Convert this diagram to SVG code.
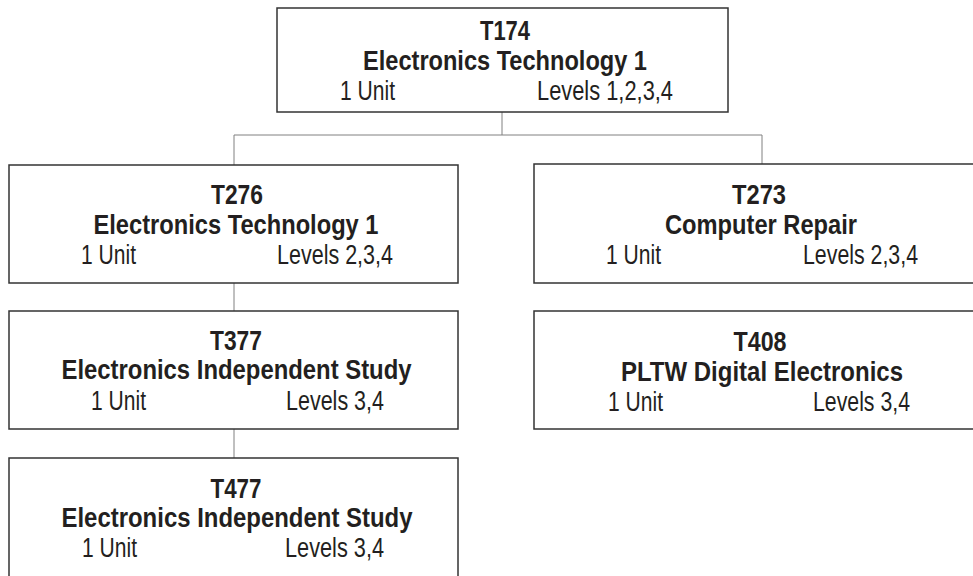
<svg xmlns="http://www.w3.org/2000/svg" width="973" height="576" viewBox="0 0 973 576">
<style>
.box{fill:#fff;stroke:#333;stroke-width:1.5}
.con{fill:none;stroke:#808080;stroke-width:1}
text{font-family:"Liberation Sans",Arial,Helvetica,sans-serif;font-size:27px;fill:#231f20}
.b{font-weight:bold;text-anchor:middle}
.r{font-weight:normal}
</style>
<rect width="973" height="576" fill="#fff"/>
<g id="connectors">
<path class="con" d="M502,112 V135 M234,135 H762 M234,135 V165 M762,135 V164 M234,283 V311 M234,429 V458"/>
</g>
<g id="T174">
<rect class="box" x="277" y="8" width="451" height="104"/>
<text class="b" x="505" y="40" textLength="50" lengthAdjust="spacingAndGlyphs">T174</text>
<text class="b" x="505" y="70" textLength="284" lengthAdjust="spacingAndGlyphs">Electronics Technology 1</text>
<text class="r" x="340" y="100" textLength="55" lengthAdjust="spacingAndGlyphs">1 Unit</text>
<text class="r" x="537" y="100" textLength="136" lengthAdjust="spacingAndGlyphs">Levels 1,2,3,4</text>
</g>
<g id="T276">
<rect class="box" x="9" y="165" width="449" height="118"/>
<text class="b" x="237" y="204" textLength="52" lengthAdjust="spacingAndGlyphs">T276</text>
<text class="b" x="236" y="234" textLength="285" lengthAdjust="spacingAndGlyphs">Electronics Technology 1</text>
<text class="r" x="81" y="264" textLength="55" lengthAdjust="spacingAndGlyphs">1 Unit</text>
<text class="r" x="277" y="264" textLength="116" lengthAdjust="spacingAndGlyphs">Levels 2,3,4</text>
</g>
<g id="T377">
<rect class="box" x="9" y="311" width="449" height="118"/>
<text class="b" x="236" y="350" textLength="52" lengthAdjust="spacingAndGlyphs">T377</text>
<text class="b" x="236.5" y="379" textLength="350" lengthAdjust="spacingAndGlyphs">Electronics Independent Study</text>
<text class="r" x="91" y="410" textLength="55" lengthAdjust="spacingAndGlyphs">1 Unit</text>
<text class="r" x="286" y="410" textLength="98" lengthAdjust="spacingAndGlyphs">Levels 3,4</text>
</g>
<g id="T477">
<rect class="box" x="9" y="458" width="449" height="122"/>
<text class="b" x="236" y="498" textLength="51" lengthAdjust="spacingAndGlyphs">T477</text>
<text class="b" x="237" y="527" textLength="351" lengthAdjust="spacingAndGlyphs">Electronics Independent Study</text>
<text class="r" x="82" y="557" textLength="55" lengthAdjust="spacingAndGlyphs">1 Unit</text>
<text class="r" x="285" y="557" textLength="99" lengthAdjust="spacingAndGlyphs">Levels 3,4</text>
</g>
<g id="T273">
<rect class="box" x="534" y="164" width="452" height="119"/>
<text class="b" x="759" y="204" textLength="54" lengthAdjust="spacingAndGlyphs">T273</text>
<text class="b" x="761" y="234" textLength="192" lengthAdjust="spacingAndGlyphs">Computer Repair</text>
<text class="r" x="606" y="264" textLength="55" lengthAdjust="spacingAndGlyphs">1 Unit</text>
<text class="r" x="803" y="264" textLength="115" lengthAdjust="spacingAndGlyphs">Levels 2,3,4</text>
</g>
<g id="T408">
<rect class="box" x="534" y="311" width="452" height="118"/>
<text class="b" x="760" y="351" textLength="53" lengthAdjust="spacingAndGlyphs">T408</text>
<text class="b" x="762" y="381" textLength="282" lengthAdjust="spacingAndGlyphs">PLTW Digital Electronics</text>
<text class="r" x="608" y="411" textLength="55" lengthAdjust="spacingAndGlyphs">1 Unit</text>
<text class="r" x="813" y="411" textLength="97" lengthAdjust="spacingAndGlyphs">Levels 3,4</text>
</g>
</svg>
